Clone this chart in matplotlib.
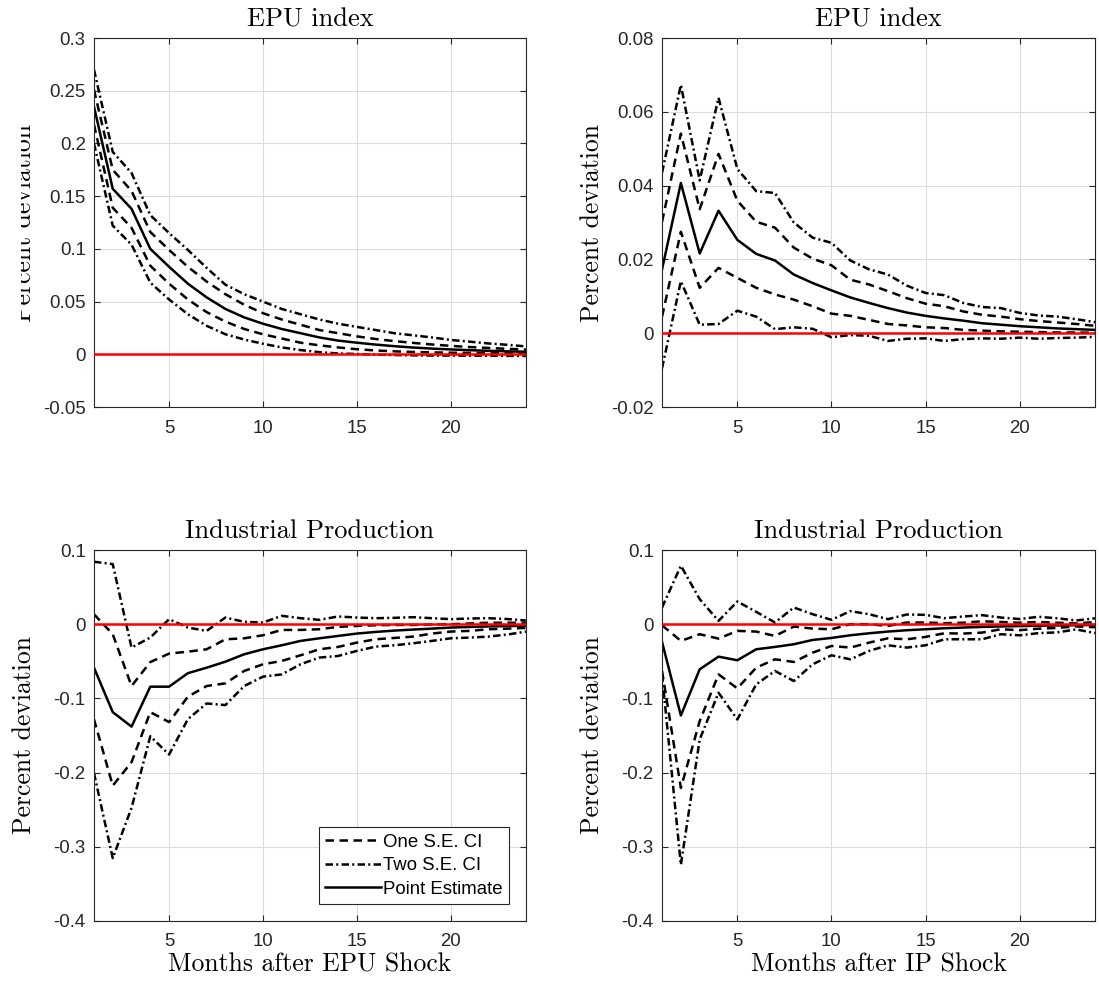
import matplotlib
matplotlib.use('Agg')
import matplotlib.pyplot as plt
from matplotlib.ticker import FuncFormatter
from matplotlib.transforms import Bbox, TransformedBbox, IdentityTransform

months = list(range(1, 25))

# EPU shock -> EPU index
epu_epu_pe = [0.235, 0.157, 0.138, 0.100, 0.083, 0.067, 0.054, 0.043, 0.035, 0.029, 0.024, 0.020,
              0.016, 0.013, 0.011, 0.0092, 0.0077, 0.0064, 0.0054, 0.0046, 0.0039, 0.0033, 0.0028, 0.0024]
epu_epu_u1 = [0.251, 0.175, 0.155, 0.116, 0.099, 0.083, 0.069, 0.057, 0.047, 0.039, 0.033, 0.028,
              0.023, 0.020, 0.017, 0.0145, 0.0125, 0.0108, 0.0093, 0.0080, 0.0069, 0.0060, 0.0052, 0.0045]
epu_epu_l1 = [0.218, 0.139, 0.120, 0.084, 0.067, 0.052, 0.040, 0.031, 0.024, 0.019, 0.015, 0.011,
              0.0085, 0.0065, 0.0048, 0.0036, 0.0028, 0.0022, 0.0018, 0.0015, 0.0013, 0.0011, 0.0010, 0.0008]
epu_epu_u2 = [0.270, 0.192, 0.172, 0.132, 0.115, 0.099, 0.082, 0.066, 0.057, 0.050, 0.043, 0.038,
              0.033, 0.029, 0.026, 0.023, 0.020, 0.018, 0.016, 0.0136, 0.012, 0.0103, 0.009, 0.0075]
epu_epu_l2 = [0.200, 0.122, 0.104, 0.068, 0.052, 0.038, 0.027, 0.019, 0.014, 0.010, 0.0065, 0.004,
              0.002, 0.0008, 0.0003, -0.0003, -0.0007, -0.001, -0.0012, -0.0012, -0.0013, -0.0014, -0.0015, -0.0016]

# IP shock -> EPU index
ip_epu_pe = [0.0173, 0.0407, 0.0216, 0.0332, 0.0253, 0.0215, 0.0197, 0.0159, 0.0136, 0.0116, 0.0097, 0.0082,
             0.0068, 0.0056, 0.0047, 0.0040, 0.0034, 0.0027, 0.0023, 0.0019, 0.0016, 0.0013, 0.0011, 0.0009]
ip_epu_u1 = [0.0302, 0.0541, 0.0336, 0.0486, 0.0359, 0.0302, 0.0286, 0.0232, 0.0202, 0.0184, 0.0145, 0.0132,
             0.0114, 0.0095, 0.0080, 0.0073, 0.0059, 0.0050, 0.0045, 0.0038, 0.0033, 0.0029, 0.0025, 0.0020]
ip_epu_l1 = [0.0045, 0.0275, 0.0123, 0.0177, 0.0150, 0.0123, 0.0105, 0.0091, 0.0073, 0.0053, 0.0047, 0.0036,
             0.0025, 0.0021, 0.0016, 0.0014, 0.0009, 0.0007, 0.0005, 0.0004, 0.0003, 0.0002, 0.0002, 0.0001]
ip_epu_u2 = [0.0435, 0.0673, 0.0414, 0.0638, 0.0445, 0.0385, 0.0380, 0.0300, 0.0259, 0.0245, 0.0197, 0.0173,
             0.0159, 0.0129, 0.0109, 0.0103, 0.0082, 0.0071, 0.0068, 0.0055, 0.0048, 0.0045, 0.0038, 0.0030]
ip_epu_l2 = [-0.0095, 0.0141, 0.0023, 0.0025, 0.0061, 0.0045, 0.0011, 0.0016, 0.0012, -0.0011, -0.0005, -0.0007,
             -0.0021, -0.0015, -0.0014, -0.0021, -0.0016, -0.0014, -0.0015, -0.0012, -0.0015, -0.0013, -0.0012, -0.0010]

# EPU shock -> industrial production
epu_ip_pe = [-0.0586, -0.1185, -0.138, -0.0842, -0.0842, -0.066, -0.0586, -0.0505, -0.0405, -0.0338, -0.0284, -0.0225,
             -0.019, -0.0158, -0.0126, -0.0104, -0.0086, -0.0072, -0.0059, -0.0045, -0.0037, -0.003, -0.0025, -0.002]
epu_ip_u1 = [0.0135, -0.0135, -0.0833, -0.051, -0.0396, -0.037, -0.0338, -0.0203, -0.019, -0.0149, -0.0077, -0.0077,
             -0.0068, -0.0036, -0.0023, -0.0014, -0.001, -0.001, -0.0005, 0.0, 0.001, 0.002, 0.002, 0.002]
epu_ip_l1 = [-0.128, -0.2176, -0.186, -0.1185, -0.132, -0.0977, -0.0833, -0.0797, -0.063, -0.054, -0.0495, -0.0419,
             -0.0338, -0.0306, -0.0248, -0.0203, -0.0185, -0.0167, -0.0126, -0.0099, -0.009, -0.0068, -0.006, -0.005]
epu_ip_u2 = [0.0842, 0.081, -0.0315, -0.018, 0.0068, -0.0045, -0.009, 0.009, 0.0032, 0.0023, 0.0113, 0.0081,
             0.0059, 0.0104, 0.009, 0.0081, 0.0086, 0.0095, 0.0081, 0.0068, 0.0077, 0.0081, 0.007, 0.005]
epu_ip_l2 = [-0.2005, -0.3153, -0.2477, -0.151, -0.1757, -0.128, -0.1068, -0.109, -0.0833, -0.0707, -0.0676, -0.054,
             -0.045, -0.0428, -0.036, -0.0302, -0.0284, -0.0257, -0.0225, -0.019, -0.018, -0.0167, -0.014, -0.010]

# IP shock -> industrial production
ip_ip_pe = [-0.0239, -0.123, -0.0608, -0.0437, -0.0486, -0.0338, -0.0306, -0.027, -0.0212, -0.0185, -0.0149, -0.0122,
            -0.0099, -0.0081, -0.0068, -0.0054, -0.0045, -0.0036, -0.003, -0.0025, -0.002, -0.0016, -0.0013, -0.001]
ip_ip_u1 = [-0.0014, -0.0225, -0.0135, -0.0194, -0.009, -0.0099, -0.0158, -0.0032, -0.0059, -0.0068, 0.0, 0.0,
            -0.0023, 0.0023, 0.0023, 0.0014, 0.002, 0.004, 0.003, 0.002, 0.003, 0.002, 0.001, 0.003]
ip_ip_l1 = [-0.063, -0.2207, -0.1306, -0.0676, -0.0865, -0.0586, -0.0473, -0.0509, -0.0383, -0.0293, -0.0315, -0.0248,
            -0.019, -0.0203, -0.0171, -0.0122, -0.0126, -0.0113, -0.0068, -0.008, -0.006, -0.005, -0.003, -0.004]
ip_ip_u2 = [0.0225, 0.0788, 0.0338, 0.0045, 0.0306, 0.0167, 0.0023, 0.0225, 0.0135, 0.0059, 0.0176, 0.0135,
            0.0068, 0.0131, 0.0126, 0.0081, 0.0104, 0.0122, 0.009, 0.007, 0.010, 0.008, 0.005, 0.008]
ip_ip_l2 = [-0.0676, -0.3243, -0.1554, -0.0923, -0.1284, -0.0811, -0.063, -0.0766, -0.054, -0.0419, -0.0473, -0.036,
            -0.0284, -0.0315, -0.0284, -0.0203, -0.0203, -0.0203, -0.0135, -0.015, -0.012, -0.011, -0.007, -0.012]

TICK_FONT = 'Liberation Sans'
LABEL_FONT = 'cmr10'
LW = 1.8
DASH = (0, (3.4, 2.2))
DASHDOT = (0, (3.0, 1.3, 0.8, 1.3))


def fmt(v, pos):
    s = '%g' % round(v, 6)
    return '0' if s in ('-0', '0') else s


def draw_panel(ax, pe, u1, l1, u2, l2, ylim, step, title, xlabel=None, legend=False):
    h1, = ax.plot(months, u1, color='black', lw=LW, ls=DASH)
    ax.plot(months, l1, color='black', lw=LW, ls=DASH)
    h2, = ax.plot(months, u2, color='black', lw=LW, ls=DASHDOT)
    ax.plot(months, l2, color='black', lw=LW, ls=DASHDOT)
    h3, = ax.plot(months, pe, color='black', lw=LW)
    ax.axhline(0, color='red', lw=1.8, zorder=5)
    ax.set_xlim(1, 24)
    ax.set_ylim(*ylim)
    ax.set_xticks([5, 10, 15, 20])
    n = int(round((ylim[1] - ylim[0]) / step))
    ax.set_yticks([ylim[0] + i * step for i in range(n + 1)])
    ax.yaxis.set_major_formatter(FuncFormatter(fmt))
    ax.grid(True, color='#dcdcdc', lw=0.8)
    ax.set_axisbelow(True)
    ax.tick_params(direction='in', length=4, width=0.8, top=True, right=True,
                   colors='#262626', labelsize=13.4)
    ax.tick_params(axis='x', pad=9)
    ax.tick_params(axis='y', pad=6)
    for lab in ax.get_xticklabels() + ax.get_yticklabels():
        lab.set_fontfamily(TICK_FONT)
    for sp in ax.spines.values():
        sp.set_color('#262626')
        sp.set_linewidth(0.8)
    ax.set_title(title, fontfamily=LABEL_FONT, fontsize=19, pad=8.6)
    ax.set_ylabel('Percent deviation', fontfamily=LABEL_FONT, fontsize=18.5)
    ax.yaxis.set_label_coords(-0.135, 0.5)
    if xlabel:
        ax.set_xlabel(xlabel, fontfamily=LABEL_FONT, fontsize=18.5, labelpad=2)
    if legend:
        leg = ax.legend([h1, h2, h3], ['One S.E. CI', 'Two S.E. CI', 'Point Estimate'],
                        loc='lower right', fancybox=False, framealpha=1, edgecolor='#262626',
                        prop={'family': TICK_FONT, 'size': 13.4}, handlelength=3.0,
                        handletextpad=0.1, borderpad=0.35, labelspacing=0.35,
                        borderaxespad=0.9)
        leg.get_frame().set_linewidth(0.8)


fig = plt.figure(figsize=(10.99, 9.85), dpi=100)
ax1 = fig.add_axes([0.0855, 0.5868, 0.393, 0.3746])
ax2 = fig.add_axes([0.6024, 0.5868, 0.394, 0.3746])
ax3 = fig.add_axes([0.0855, 0.0650, 0.393, 0.3766])
ax4 = fig.add_axes([0.6024, 0.0650, 0.394, 0.3766])

draw_panel(ax1, epu_epu_pe, epu_epu_u1, epu_epu_l1, epu_epu_u2, epu_epu_l2,
           (-0.05, 0.3), 0.05, 'EPU index')
draw_panel(ax2, ip_epu_pe, ip_epu_u1, ip_epu_l1, ip_epu_u2, ip_epu_l2,
           (-0.02, 0.08), 0.02, 'EPU index')
draw_panel(ax3, epu_ip_pe, epu_ip_u1, epu_ip_l1, epu_ip_u2, epu_ip_l2,
           (-0.4, 0.1), 0.1, 'Industrial Production', xlabel='Months after EPU Shock', legend=True)
draw_panel(ax4, ip_ip_pe, ip_ip_u1, ip_ip_l1, ip_ip_u2, ip_ip_l2,
           (-0.4, 0.1), 0.1, 'Industrial Production', xlabel='Months after IP Shock')

# the top-left y label is cut off at the left edge in the original
lbl = ax1.yaxis.label
lbl.set_clip_on(True)
lbl.set_clip_box(TransformedBbox(Bbox([[20.5, 0], [1099, 985]]), IdentityTransform()))

fig.savefig('out.png', dpi=100)
